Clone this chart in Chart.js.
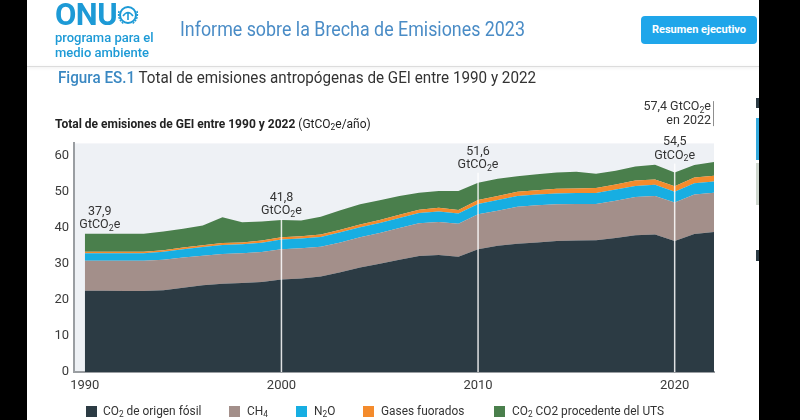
<!DOCTYPE html>
<html lang="es">
<head>
<meta charset="UTF-8">
<title>Informe sobre la Brecha de Emisiones 2023</title>
<script src="https://cdn.jsdelivr.net/npm/chart.js"></script>
<style>
    html, body { margin: 0; padding: 0; }
    body {
        width: 800px;
        height: 420px;
        position: relative;
        overflow: hidden;
        background: #fff;
        font-family: Roboto, "Noto Sans", sans-serif;
        color: #333;
    }
    #grafico { position: absolute; left: 0; top: 0; }
    .abs { position: absolute; white-space: nowrap; }
    .franja { position: absolute; top: 0; height: 420px; background: #000; }
    .onu { left: 55px; top: -4px; font-size: 31px; font-weight: 700; color: #1d9ad6; letter-spacing: -0.5px; }
    .pnuma { left: 55px; top: 30px; font-size: 13px; font-weight: 500; line-height: 15px; color: #1d9ad6; }
    .titulo { left: 180px; top: 18px; font-size: 19.5px; color: #4a8cc6; transform: scaleX(0.915); transform-origin: left center; }
    .boton {
        left: 641px; top: 16px; width: 116px; height: 28px; line-height: 28px;
        background: #1fa6ea; border-radius: 4px; color: #fff; font-size: 11px; font-weight: 700; text-align: center;
    }
    .sombra { left: 27px; width: 732px; top: 66px; height: 1px; background: #dcdcdc; box-shadow: 0 1px 3px rgba(0,0,0,0.12); }
    .figura { left: 58px; top: 68px; font-size: 16px; color: #333; transform: scaleX(0.95); transform-origin: left center; }
    .figura b { font-weight: 500; color: #3a88c2; }
    .subtitulo { left: 55px; top: 117px; font-size: 12px; color: #222; }
    .subtitulo b { font-weight: 700; }
    sub { font-size: 0.7em; vertical-align: -0.25em; line-height: 0; }
    .leyenda { top: 403px; font-size: 12.5px; color: #333; line-height: 16px; transform: scaleX(0.95); transform-origin: left center; }
    .caja { position: absolute; width: 11px; height: 11px; top: 406px; }
</style>
</head>
<body>
    <canvas id="grafico" width="800" height="420"></canvas>

    <div class="franja" style="left:0; width:27px;"></div>
    <div class="franja" style="left:759px; width:41px;"></div>
    <div class="abs" style="left:756px; top:98px; width:3px; height:10px; background:#2c3b44;"></div>
    <div class="abs" style="left:756px; top:118px; width:3px; height:42px; background:#34a9dc;"></div>
    <div class="abs" style="left:756px; top:163px; width:3px; height:42px; background:#cfd8cf;"></div>
    <div class="abs" style="left:756px; top:250px; width:3px; height:11px; background:#2c3b44;"></div>

    <!-- Cabecera -->
    <div class="abs onu">ONU</div>
    <svg class="abs" style="left:116px; top:3px;" width="24" height="24" viewBox="0 0 24 24">
        <circle cx="12" cy="12" r="8" fill="none" stroke="#1d9ad6" stroke-width="2"/>
        <path d="M7 13 Q12 6 17 13 M12 9 L12 17" fill="none" stroke="#1d9ad6" stroke-width="1.6"/>
        <path d="M3 8 Q1 16 8 21 M21 8 Q23 16 16 21" fill="none" stroke="#1d9ad6" stroke-width="1.4" stroke-dasharray="2 1"/>
    </svg>
    <div class="abs pnuma">programa para el<br>medio ambiente</div>
    <div class="abs titulo">Informe sobre la Brecha de Emisiones 2023</div>
    <div class="abs boton">Resumen ejecutivo</div>
    <div class="abs sombra"></div>

    <div class="abs figura"><b>Figura ES.1</b> Total de emisiones antropógenas de GEI entre 1990 y 2022</div>
    <div class="abs subtitulo"><b>Total de emisiones de GEI entre 1990 y 2022</b> (GtCO<sub>2</sub>e/año)</div>

    <!-- Leyenda -->
    <div class="caja" style="left:86px; background:#2c3b44;"></div>
    <div class="abs leyenda" style="left:103px;">CO<sub>2</sub> de origen fósil</div>
    <div class="caja" style="left:229px; background:#a38f8a;"></div>
    <div class="abs leyenda" style="left:247px;">CH<sub>4</sub></div>
    <div class="caja" style="left:296px; background:#17aee2;"></div>
    <div class="abs leyenda" style="left:314px;">N<sub>2</sub>O</div>
    <div class="caja" style="left:363px; background:#f48b2c;"></div>
    <div class="abs leyenda" style="left:381px;">Gases fuorados</div>
    <div class="caja" style="left:494px; background:#4a7f4c;"></div>
    <div class="abs leyenda" style="left:512px;">CO<sub>2</sub> CO2 procedente del UTS</div>

<script>
    // Datos (GtCO2e por año)
    const anios = [1990, 1991, 1992, 1993, 1994, 1995, 1996, 1997, 1998, 1999,
                   2000, 2001, 2002, 2003, 2004, 2005, 2006, 2007, 2008, 2009,
                   2010, 2011, 2012, 2013, 2014, 2015, 2016, 2017, 2018, 2019,
                   2020, 2021, 2022];
    const co2Fosil = [22.6, 22.6, 22.5, 22.5, 22.7, 23.4, 24.1, 24.5, 24.7, 25.0,
                      25.7, 26.0, 26.5, 27.7, 29.0, 30.1, 31.2, 32.2, 32.5, 32.0,
                      34.1, 35.1, 35.6, 36.0, 36.4, 36.5, 36.6, 37.2, 38.0, 38.2,
                      36.4, 38.3, 38.9];
    const ch4 = [8.3, 8.3, 8.4, 8.4, 8.5, 8.4, 8.2, 8.3, 8.3, 8.3,
                 8.4, 8.4, 8.3, 8.3, 8.4, 8.5, 8.8, 9.1, 9.2, 9.2,
                 9.7, 9.7, 10.3, 10.3, 10.2, 10.2, 10.1, 10.4, 10.6, 10.7,
                 10.7, 11.0, 10.9];
    const n2o = [2.1, 2.1, 2.1, 2.1, 2.2, 2.3, 2.4, 2.5, 2.5, 2.6,
                 2.7, 2.7, 2.7, 2.8, 2.8, 2.8, 2.8, 2.9, 2.9, 2.8,
                 2.9, 3.0, 3.0, 3.0, 3.0, 3.0, 3.0, 3.1, 3.1, 3.1,
                 3.0, 3.1, 3.1];
    const gasesF = [0.4, 0.4, 0.4, 0.4, 0.4, 0.5, 0.5, 0.5, 0.5, 0.6,
                    0.6, 0.6, 0.7, 0.7, 0.8, 0.8, 0.9, 0.9, 1.0, 1.0,
                    1.1, 1.1, 1.2, 1.2, 1.3, 1.3, 1.4, 1.4, 1.5, 1.5,
                    1.5, 1.6, 1.6];
    const co2Uts = [5.0, 5.0, 5.0, 5.0, 5.2, 5.2, 5.5, 7.2, 5.6, 5.3,
                    4.8, 4.4, 4.9, 5.4, 5.6, 5.5, 5.2, 4.7, 4.7, 5.3,
                    4.8, 4.8, 4.3, 4.4, 4.5, 4.6, 4.0, 3.8, 3.9, 4.1,
                    3.8, 3.5, 3.8];

    const ticksX = [1990, 2000, 2010, 2020];
    const ticksY = [0, 10, 20, 30, 40, 50, 60];

    // Etiquetas de total sobre el área
    const anotaciones = [
        { anio: 1990, lineas: ['37,9', 'GtCO₂e'], dx: 15, dy: [-22, -9], alinear: 'center' },
        { anio: 2000, lineas: ['41,8', 'GtCO₂e'], dx: 0, dy: [-22, -9], alinear: 'center' },
        { anio: 2010, lineas: ['51,6', 'GtCO₂e'], dx: 0, dy: [-31, -18], alinear: 'center' },
        { anio: 2020, lineas: ['54,5', 'GtCO₂e'], dx: 0, dy: [-31, -17], alinear: 'center' },
        { anio: 2022, lineas: ['57,4 GtCO₂e', 'en 2022'], dx: -3, dy: [-55, -41], alinear: 'right' }
    ];
    const lineasVerticales = [2000, 2010, 2020];

    const serie = (valores) => anios.map((a, i) => ({ x: a, y: valores[i] }));
    const totales = anios.map((a, i) => co2Fosil[i] + ch4[i] + n2o[i] + gasesF[i] + co2Uts[i]);

    // Texto con subíndices (₂, ₄) dibujado en el canvas
    function textoSub(ctx, txt, x, y, alinear, tam) {
        const partes = [];
        for (const ch of txt) {
            const sub = ch === '₂' || ch === '₄';
            const c = sub ? (ch === '₂' ? '2' : '4') : ch;
            const ult = partes[partes.length - 1];
            if (ult && ult.sub === sub) ult.t += c; else partes.push({ t: c, sub: sub });
        }
        let ancho = 0;
        partes.forEach(p => {
            ctx.font = (p.sub ? tam * 0.7 : tam) + 'px Roboto';
            p.w = ctx.measureText(p.t).width;
            ancho += p.w;
        });
        let cx = alinear === 'center' ? x - ancho / 2 : (alinear === 'right' ? x - ancho : x);
        ctx.textAlign = 'left';
        ctx.textBaseline = 'middle';
        partes.forEach(p => {
            ctx.font = (p.sub ? tam * 0.7 : tam) + 'px Roboto';
            ctx.fillText(p.t, cx, p.sub ? y + tam * 0.3 : y);
            cx += p.w;
        });
    }

    const fondoArea = {
        id: 'fondoArea',
        beforeDraw(chart) {
            const { ctx, chartArea: a } = chart;
            ctx.save();
            ctx.fillStyle = '#eef1f5';
            ctx.fillRect(a.left, a.top, a.right - a.left, a.bottom - a.top);
            ctx.restore();
        }
    };

    const marcas = {
        id: 'marcas',
        afterDatasetsDraw(chart) {
            const { ctx, chartArea: a, scales } = chart;
            ctx.save();
            ctx.strokeStyle = 'rgba(255,255,255,0.85)';
            ctx.lineWidth = 1.5;
            lineasVerticales.forEach(anio => {
                const i = anios.indexOf(anio);
                const an = anotaciones.find(n => n.anio === anio);
                const x = scales.x.getPixelForValue(anio);
                const y0 = scales.y.getPixelForValue(totales[i]) + an.dy[1] + 8;
                ctx.beginPath();
                ctx.moveTo(x, y0);
                ctx.lineTo(x, a.bottom);
                ctx.stroke();
            });
            // línea junto a la etiqueta de 2022
            const i22 = anios.indexOf(2022);
            const y22 = scales.y.getPixelForValue(totales[i22]);
            ctx.strokeStyle = '#8f8f8f';
            ctx.lineWidth = 1;
            ctx.beginPath();
            ctx.moveTo(a.right - 0.5, y22 - 61);
            ctx.lineTo(a.right - 0.5, y22 - 36);
            ctx.stroke();
            ctx.restore();
        },
        afterDraw(chart) {
            const { ctx, scales } = chart;
            ctx.save();
            ctx.fillStyle = '#333';
            anotaciones.forEach(n => {
                const i = anios.indexOf(n.anio);
                const x = scales.x.getPixelForValue(n.anio) + n.dx;
                const yTop = scales.y.getPixelForValue(totales[i]);
                n.lineas.forEach((t, k) => textoSub(ctx, t, x, yTop + n.dy[k], n.alinear, 12.5));
            });
            ctx.restore();
        }
    };

    const ctx = document.getElementById('grafico').getContext('2d');
    new Chart(ctx, {
        type: 'line',
        data: {
            datasets: [
                { label: 'CO₂ de origen fósil', data: serie(co2Fosil), backgroundColor: '#2c3b44', fill: 'origin' },
                { label: 'CH₄', data: serie(ch4), backgroundColor: '#a38f8a', fill: '-1' },
                { label: 'N₂O', data: serie(n2o), backgroundColor: '#17aee2', fill: '-1' },
                { label: 'Gases fuorados', data: serie(gasesF), backgroundColor: '#f48b2c', fill: '-1' },
                { label: 'CO₂ CO2 procedente del UTS', data: serie(co2Uts), backgroundColor: '#4a7f4c', fill: '-1' }
            ]
        },
        options: {
            responsive: false,
            animation: false,
            layout: { padding: { top: 143.4, right: 86, left: 0, bottom: 0 } },
            elements: {
                point: { radius: 0 },
                line: { borderWidth: 0, tension: 0 }
            },
            scales: {
                x: {
                    type: 'linear',
                    min: 1989.45,
                    max: 2022,
                    z: 1,
                    grid: { display: false, drawTicks: false },
                    border: { display: true, color: '#9a9ea2', width: 2 },
                    ticks: { padding: 6, color: '#3a3a3a', font: { family: 'Roboto', size: 13 }, callback: v => String(v) },
                    afterBuildTicks: s => { s.ticks = ticksX.map(v => ({ value: v })); },
                    afterFit: s => { s.height = 48; }
                },
                y: {
                    stacked: true,
                    min: 0,
                    max: 63.5,
                    z: 1,
                    grid: { display: false, drawTicks: false },
                    border: { display: true, color: '#9a9ea2', width: 2 },
                    ticks: { padding: 5, color: '#3a3a3a', font: { family: 'Roboto', size: 13 } },
                    afterBuildTicks: s => { s.ticks = ticksY.map(v => ({ value: v })); },
                    afterFit: s => { s.width = 74; }
                }
            },
            plugins: {
                legend: { display: false },
                tooltip: { enabled: false }
            }
        },
        plugins: [fondoArea, marcas]
    });
</script>
</body>
</html>
